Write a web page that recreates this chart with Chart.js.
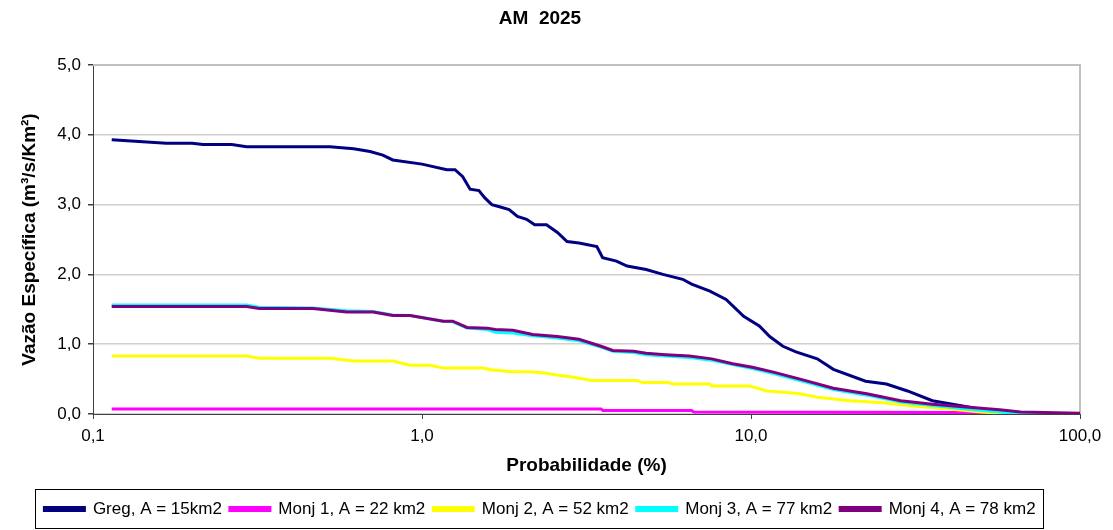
<!DOCTYPE html>
<html>
<head>
<meta charset="utf-8">
<script src="https://cdn.jsdelivr.net/npm/chart.js@4.4.1/dist/chart.umd.min.js"></script>
<style>
  html, body { margin: 0; padding: 0; background: #fff; }
  #wrap { width: 1113px; height: 530px; }
</style>
</head>
<body>
<div id="wrap"><canvas id="chart" width="1113" height="530"></canvas></div>
<script>
// series names and colours
const seriesNames = ["Greg, A = 15km2", "Monj 1, A = 22 km2", "Monj 2, A = 52 km2", "Monj 3, A = 77 km2", "Monj 4, A = 78 km2"];
const seriesColors = ["#000080", "#FF00FF", "#FFFF00", "#00FFFF", "#800080"];

// axis ticks
const xTicks = [0.1, 1, 10, 100];
const yTicks = [0, 1, 2, 3, 4, 5];

// Greg (probabilidade %, vazao especifica)
const gregP = [0.114, 0.167, 0.2, 0.216, 0.264, 0.293, 0.525, 0.62, 0.695, 0.76, 0.815, 1.0, 1.19, 1.26, 1.33, 1.4, 1.49, 1.55, 1.63, 1.72, 1.84, 1.95, 2.08, 2.2, 2.39, 2.58, 2.76, 3.0, 3.4, 3.54, 3.9, 4.2, 4.8, 5.4, 6.2, 6.6, 7.5, 8.4, 9.5, 10.6, 11.4, 12.5, 13.7, 15.9, 17.8, 22.3, 25.8, 29.9, 35.6, 41, 50, 57, 70, 100];
const gregV = [3.93, 3.88, 3.88, 3.86, 3.86, 3.83, 3.83, 3.8, 3.76, 3.71, 3.64, 3.58, 3.5, 3.5, 3.4, 3.22, 3.2, 3.1, 3.0, 2.97, 2.93, 2.83, 2.79, 2.71, 2.71, 2.6, 2.47, 2.45, 2.4, 2.24, 2.19, 2.12, 2.07, 2.0, 1.93, 1.86, 1.76, 1.64, 1.4, 1.26, 1.11, 0.97, 0.89, 0.79, 0.64, 0.47, 0.43, 0.33, 0.19, 0.14, 0.07, 0.03, 0.01, 0.0];

// Monj 1
const monj1P = [0.114, 3.5, 3.55, 6.6, 6.7, 45, 60, 100];
const monj1V = [0.07, 0.07, 0.05, 0.05, 0.03, 0.02, 0.0, 0.0];

// Monj 2
const monj2P = [0.114, 0.293, 0.32, 0.525, 0.62, 0.815, 0.92, 1.05, 1.16, 1.53, 1.64, 1.85, 2.17, 2.33, 2.64, 2.86, 3.3, 4.5, 4.7, 5.6, 5.8, 7.5, 7.6, 9.9, 11.2, 12.6, 14.1, 15.9, 20, 25.2, 31.7, 40, 50, 57, 100];
const monj2V = [0.83, 0.83, 0.8, 0.8, 0.76, 0.76, 0.7, 0.7, 0.66, 0.66, 0.63, 0.61, 0.6, 0.59, 0.55, 0.53, 0.48, 0.48, 0.45, 0.45, 0.43, 0.43, 0.4, 0.4, 0.33, 0.31, 0.29, 0.24, 0.19, 0.16, 0.11, 0.07, 0.03, 0.01, 0.0];

// Monj 3
const monj3P = [0.114, 0.293, 0.32, 0.466, 0.59, 0.71, 0.815, 0.92, 1.16, 1.24, 1.37, 1.58, 1.67, 1.89, 2.17, 2.58, 3.0, 3.5, 3.8, 4.4, 4.8, 5.5, 6.5, 7.6, 8.8, 10.1, 11.7, 14.1, 17.8, 22.5, 28.5, 35.6, 45, 57, 65, 100];
const monj3V = [1.56, 1.56, 1.53, 1.52, 1.48, 1.47, 1.42, 1.41, 1.33, 1.32, 1.23, 1.21, 1.17, 1.16, 1.12, 1.09, 1.05, 0.96, 0.9, 0.88, 0.85, 0.83, 0.81, 0.77, 0.71, 0.65, 0.58, 0.48, 0.35, 0.27, 0.17, 0.12, 0.07, 0.03, 0.0, 0.0];

// Monj 4
const monj4P = [0.114, 0.293, 0.32, 0.466, 0.59, 0.71, 0.815, 0.92, 1.16, 1.24, 1.37, 1.58, 1.67, 1.89, 2.17, 2.58, 3.0, 3.5, 3.8, 4.4, 4.8, 5.5, 6.5, 7.6, 8.8, 10.1, 11.7, 14.1, 17.8, 22.5, 28.5, 35.6, 45, 57, 66, 100];
const monj4V = [1.54, 1.54, 1.51, 1.51, 1.46, 1.46, 1.41, 1.41, 1.33, 1.33, 1.24, 1.23, 1.21, 1.2, 1.14, 1.11, 1.07, 0.97, 0.91, 0.9, 0.87, 0.85, 0.83, 0.79, 0.72, 0.67, 0.6, 0.5, 0.37, 0.29, 0.19, 0.14, 0.1, 0.06, 0.03, 0.01];

const seriesP = [gregP, monj1P, monj2P, monj3P, monj4P];
const seriesV = [gregV, monj1V, monj2V, monj3V, monj4V];

const FONT = "'Liberation Sans', Arial, sans-serif";
const fmt = v => Number(v).toFixed(1).replace(".", ",");

// gray frame on top/right of plot area and box round the legend
const framePlugin = {
    id: "frame",
    beforeDatasetsDraw(chart) {
        const { ctx, chartArea: a } = chart;
        ctx.save();
        ctx.strokeStyle = "#c0c0c0";
        ctx.lineWidth = 2;
        ctx.beginPath();
        ctx.moveTo(a.left, a.top);
        ctx.lineTo(a.right, a.top);
        ctx.lineTo(a.right, a.bottom);
        ctx.stroke();
        ctx.restore();
    },
    afterDraw(chart) {
        const lg = chart.legend;
        if (!lg || !lg.legendHitBoxes.length) return;
        const boxes = lg.legendHitBoxes;
        const left = Math.min(...boxes.map(b => b.left)) - 9;
        const right = Math.max(...boxes.map(b => b.left + b.width)) + 8;
        const mid = boxes[0].top + boxes[0].height / 2;
        const top = Math.round(mid - 20) + 0.5;
        const bottom = Math.min(Math.round(mid + 20) - 0.5, chart.height - 1.5);
        const { ctx } = chart;
        ctx.save();
        ctx.strokeStyle = "#000";
        ctx.lineWidth = 1;
        ctx.strokeRect(Math.round(left) + 0.5, top, Math.round(right - left), bottom - top);
        ctx.restore();
    }
};

const datasets = seriesNames.map((name, i) => ({
    label: name,
    data: seriesP[i].map((p, k) => ({ x: p, y: seriesV[i][k] })),
    borderColor: seriesColors[i],
    backgroundColor: seriesColors[i],
    borderWidth: 3,
    pointRadius: 0,
    tension: 0,
    order: seriesNames.length - i
}));

new Chart(document.getElementById("chart"), {
    type: "line",
    data: { datasets },
    plugins: [framePlugin],
    options: {
        responsive: false,
        animation: false,
        layout: { padding: { top: 0, right: 33, left: 0, bottom: 2.5 } },
        plugins: {
            title: {
                display: true,
                text: "AM  2025",
                color: "#000",
                font: { family: FONT, size: 19, weight: "bold" },
                padding: { top: 7, bottom: 35.2 }
            },
            legend: {
                position: "bottom",
                labels: {
                    color: "#000",
                    font: { family: FONT, size: 17 },
                    boxWidth: 40,
                    boxHeight: 3,
                    padding: 8,
                    sort: (a, b) => a.datasetIndex - b.datasetIndex
                }
            },
            tooltip: { enabled: false }
        },
        scales: {
            x: {
                type: "logarithmic",
                min: 0.1,
                max: 100,
                afterBuildTicks: scale => { scale.ticks = xTicks.map(v => ({ value: v })); },
                afterFit: scale => { scale.height = 78.5; },
                ticks: {
                    color: "#000",
                    font: { family: FONT, size: 17 },
                    padding: 7,
                    maxRotation: 0,
                    callback: v => fmt(v)
                },
                grid: { drawOnChartArea: false, tickColor: "#404040", tickLength: 5 },
                border: { color: "#404040", width: 1 },
                title: {
                    display: true,
                    text: "Probabilidade (%)",
                    color: "#000",
                    font: { family: FONT, size: 19, weight: "bold" },
                    padding: { top: 0, bottom: 15 }
                }
            },
            y: {
                min: 0,
                max: 5,
                afterBuildTicks: scale => { scale.ticks = yTicks.map(v => ({ value: v })); },
                afterFit: scale => { scale.width = 93; },
                ticks: {
                    color: "#000",
                    font: { family: FONT, size: 17 },
                    padding: 7,
                    callback: v => fmt(v)
                },
                grid: {
                    color: "#d0d0d0",
                    lineWidth: 1.5,
                    tickColor: "#404040",
                    tickLength: 5
                },
                border: { color: "#404040", width: 1 },
                title: {
                    display: true,
                    text: "Vazão Específica (m³/s/Km²)",
                    color: "#000",
                    font: { family: FONT, size: 19, weight: "bold" },
                    padding: { top: 18.5, bottom: 0 }
                }
            }
        }
    }
});
</script>
</body>
</html>
